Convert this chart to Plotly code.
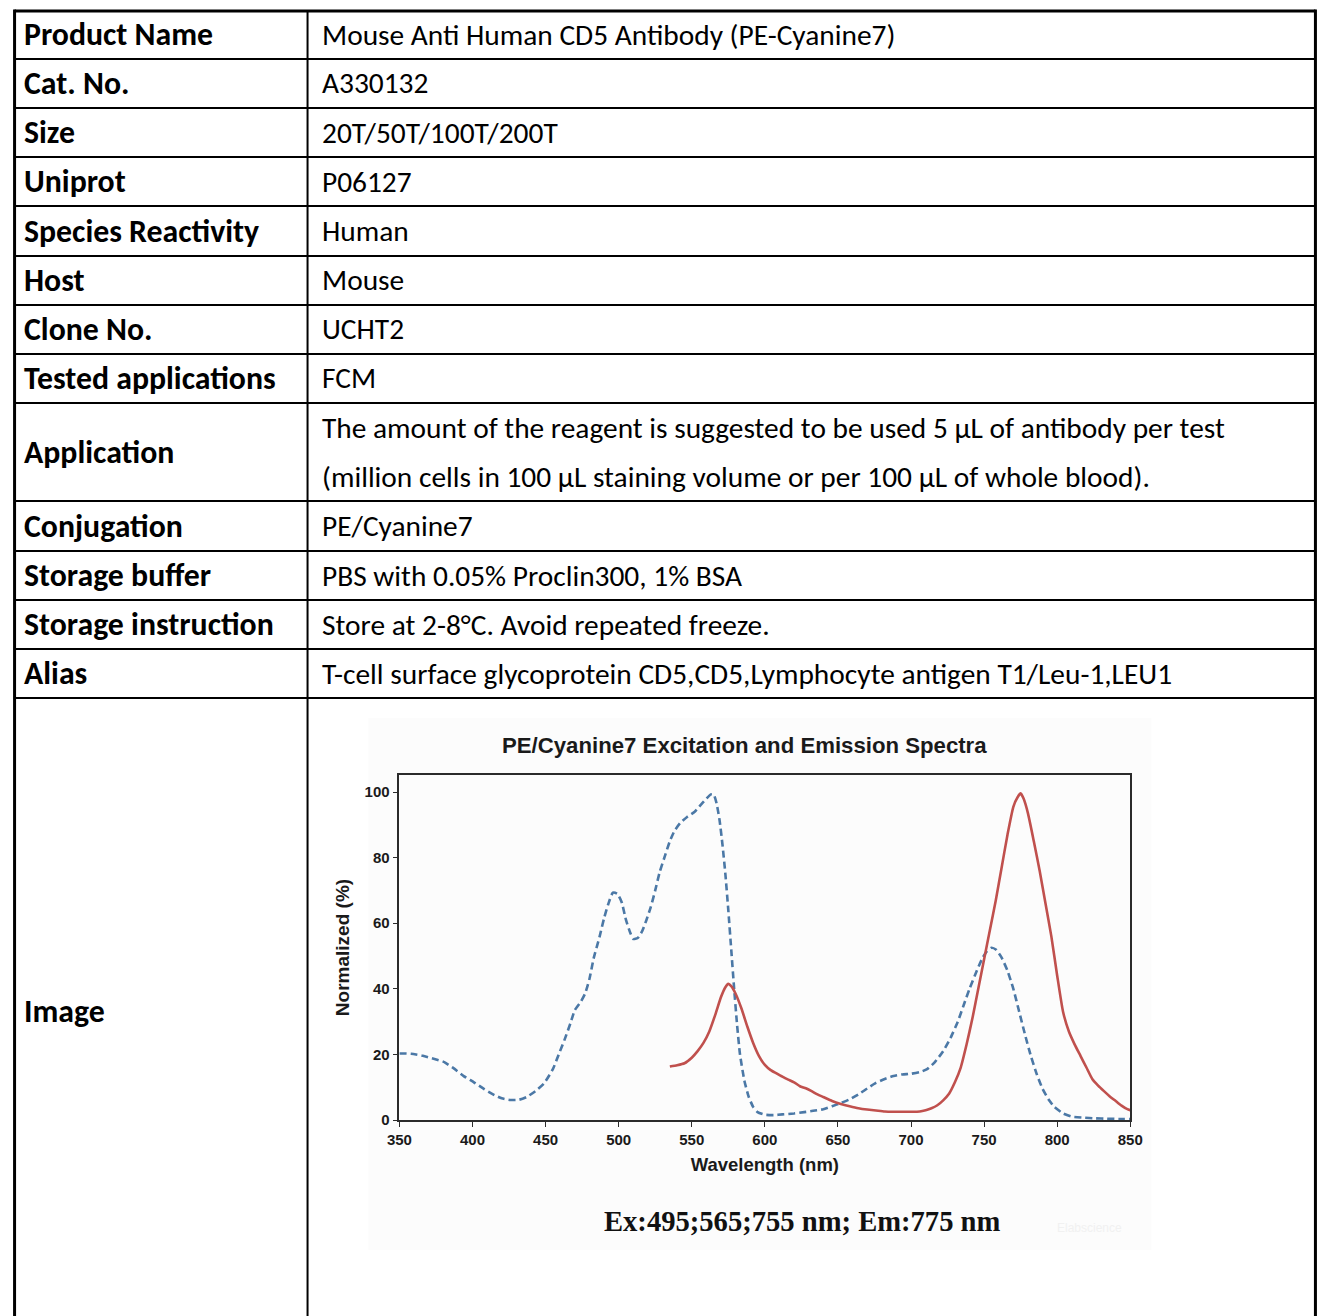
import plotly.graph_objects as go

# ---------------- data ----------------
row_labels = ["Product Name", "Cat. No.", "Size", "Uniprot", "Species Reactivity", "Host",
              "Clone No.", "Tested applications", "Application", "Conjugation",
              "Storage buffer", "Storage instruction", "Alias", "Image"]
row_values = [
    ["Mouse Anti Human CD5 Antibody (PE-Cyanine7)"],
    ["A330132"],
    ["20T/50T/100T/200T"],
    ["P06127"],
    ["Human"],
    ["Mouse"],
    ["UCHT2"],
    ["FCM"],
    ["The amount of the reagent is suggested to be used 5 µL of antibody per test",
     "(million cells in 100 µL staining volume or per 100 µL of whole blood)."],
    ["PE/Cyanine7"],
    ["PBS with 0.05% Proclin300, 1% BSA"],
    ["Store at 2-8°C. Avoid repeated freeze."],
    ["T-cell surface glycoprotein CD5,CD5,Lymphocyte antigen T1/Leu-1,LEU1"],
    [],
]

chart_title = "PE/Cyanine7 Excitation and Emission Spectra"
x_title = "Wavelength (nm)"
y_title = "Normalized (%)"
caption = "Ex:495;565;755 nm; Em:775 nm"
x_ticks = [350, 400, 450, 500, 550, 600, 650, 700, 750, 800, 850]
y_ticks = [0, 20, 40, 60, 80, 100]

ex_wl = [350, 358, 366, 374, 380, 387, 394, 401, 408, 415, 420, 426, 432, 437, 443, 449, 455,
         459, 463, 467, 470, 474, 477, 480, 483, 487, 490, 493, 496, 499, 502, 505, 508, 510,
         513, 516, 519, 522, 525, 528, 532, 535, 538, 542, 547, 552, 556, 560, 563, 565, 567,
         569, 571, 573, 575, 577, 579, 581, 583, 586, 589, 592, 595, 600, 606, 612, 620, 627,
         633, 640, 646, 652, 658, 664, 670, 676, 682, 688, 694, 700, 706, 711, 716, 722, 727,
         732, 736, 740, 745, 749, 752, 755, 758, 762, 766, 770, 774, 778, 782, 786, 790, 794,
         798, 804, 810, 818, 826, 834, 842, 850]
ex_val = [20.3, 20.2, 19.6, 18.6, 17.8, 15.8, 13.4, 11.5, 9.4, 7.6, 6.6, 6.1, 6.2, 7.0, 8.8, 11.2, 15.5,
          20.0, 24.5, 29.5, 33.5, 36.0, 38.5, 43.0, 49.5, 56.0, 61.5, 66.0, 69.3, 69.0, 66.5, 61.0, 57.0, 55.2,
          55.5, 57.5, 61.0, 65.0, 70.0, 75.5, 81.0, 85.0, 88.0, 90.5, 92.5, 94.0, 96.0, 98.0, 99.3, 99.3, 96.5,
          91.5, 84.0, 75.0, 64.0, 52.0, 40.0, 29.0, 20.0, 12.0, 7.0, 4.0, 2.4, 1.6, 1.5, 1.7, 2.0, 2.4,
          2.8, 3.3, 4.2, 5.2, 6.3, 7.8, 9.6, 11.3, 12.5, 13.4, 13.9, 14.1, 14.6, 15.5, 17.5, 21.0, 25.0,
          30.0, 35.0, 40.0, 45.5, 49.5, 51.5, 52.5, 52.0, 49.5, 45.5, 40.0, 33.0, 26.0, 19.5, 14.0, 9.5, 6.3,
          4.0, 2.0, 1.0, 0.7, 0.5, 0.4, 0.3, 0.3]

em_wl = [535, 540, 545, 550, 554, 558, 562, 566, 570, 573, 575, 577, 580, 584, 588, 592, 596,
         600, 604, 608, 612, 616, 620, 624, 628, 632, 636, 640, 646, 652, 658, 664, 670, 676,
         682, 688, 694, 700, 706, 710, 714, 718, 722, 726, 730, 734, 738, 742, 746, 750, 754,
         758, 762, 766, 770, 773, 775, 777, 780, 784, 788, 792, 796, 800, 804, 808, 812, 816,
         820, 824, 828, 832, 836, 840, 844, 848, 850]
em_val = [16.3, 16.7, 17.3, 19.0, 21.0, 23.5, 27.0, 32.0, 37.5, 40.5, 41.5, 40.8, 38.5, 34.0, 28.5, 23.5, 19.5,
          16.8, 15.2, 14.2, 13.2, 12.3, 11.5, 10.3, 9.7, 8.8, 7.8, 7.0, 5.8, 4.9, 4.2, 3.6, 3.2, 2.9,
          2.6, 2.5, 2.5, 2.5, 2.6, 3.0, 3.6, 4.5, 6.0, 8.0, 11.5, 16.0, 23.0, 31.0, 40.0, 49.0, 58.0,
          67.0, 77.0, 87.0, 95.5, 98.5, 99.6, 98.0, 93.5, 85.0, 76.0, 66.0, 56.0, 44.0, 33.0, 27.0, 23.0, 19.5,
          16.0, 12.5, 10.5, 8.8, 7.2, 5.8, 4.4, 3.3, 3.0]

# ---------------- layout helpers ----------------
W, H = 1330, 1316
# positions below are given in picture pixels; map them to paper fractions
def px(x):
    return min(max((x - 12.0) / 1306.0, 0.0012), 0.9988)
def py(y):
    return min(max(1 - y / 1308.0, 0.0), 0.9995)

TABLE_L, TABLE_R, TABLE_T = 8.5, 1325.5, 11
COL_X = 307
BOTTOM = -0.02  # let the vertical rules run off the bottom edge
row_lines = [59, 108, 157, 206, 256, 305, 354, 403, 501, 551, 600, 649, 698]
row_bounds = [TABLE_T] + row_lines + [1330]

table_font = "Carlito, Calibri, Lato, sans-serif"
chart_font = "Liberation Sans, Arial, sans-serif"

fig = go.Figure()

fig.add_trace(go.Scatter(
    x=ex_wl, y=ex_val, mode="lines", name="Excitation",
    line=dict(color="#4b78a6", width=2.6, dash="7px,4px", shape="spline", smoothing=0.5),
    hoverinfo="x+y", showlegend=False))
fig.add_trace(go.Scatter(
    x=em_wl, y=em_val, mode="lines", name="Emission",
    line=dict(color="#c0504d", width=2.6, shape="spline", smoothing=0.5),
    hoverinfo="x+y", showlegend=False))

shapes = []
shapes.append(dict(type="rect", xref="paper", yref="paper", x0=px(368), x1=px(1152), y0=py(1250), y1=py(718),
                   fillcolor="#fcfcfc", line=dict(width=0), layer="below"))
shapes.append(dict(type="line", xref="paper", yref="paper", x0=px(TABLE_L), x1=px(TABLE_R),
                   y0=py(TABLE_T), y1=py(TABLE_T), line=dict(color="black", width=3)))
shapes.append(dict(type="line", xref="paper", yref="paper", x0=px(TABLE_L), x1=px(TABLE_L),
                   y0=py(TABLE_T - 1.5), y1=BOTTOM, line=dict(color="black", width=3)))
shapes.append(dict(type="line", xref="paper", yref="paper", x0=px(TABLE_R), x1=px(TABLE_R),
                   y0=py(TABLE_T - 1.5), y1=BOTTOM, line=dict(color="black", width=3)))
shapes.append(dict(type="line", xref="paper", yref="paper", x0=px(COL_X), x1=px(COL_X),
                   y0=py(TABLE_T), y1=BOTTOM, line=dict(color="black", width=2)))
for yl in row_lines:
    shapes.append(dict(type="line", xref="paper", yref="paper", x0=px(TABLE_L), x1=px(TABLE_R),
                       y0=py(yl), y1=py(yl), line=dict(color="black", width=2)))

annotations = []
for i, lab in enumerate(row_labels):
    top, bot = row_bounds[i], row_bounds[i + 1]
    if lab == "Image":
        cy = 1012
    else:
        cy = (top + bot) / 2
    annotations.append(dict(text="<b>%s</b>" % lab, xref="paper", yref="paper", x=px(21), y=py(cy),
                            xanchor="left", yanchor="middle", showarrow=False,
                            font=dict(family=table_font, size=31.8, color="black")))
    vals = row_values[i]
    n = len(vals)
    for j, v in enumerate(vals):
        if n == 1:
            vy = cy
        else:
            span = (bot - top) / n
            vy = top + span * (j + 0.5)
        annotations.append(dict(text=v, xref="paper", yref="paper", x=px(319), y=py(vy),
                                xanchor="left", yanchor="middle", showarrow=False,
                                font=dict(family=table_font, size=29.4, color="black")))

annotations.append(dict(text="<b>%s</b>" % chart_title, xref="paper", yref="paper", x=px(745), y=py(745),
                        xanchor="center", yanchor="middle", showarrow=False,
                        font=dict(family=chart_font, size=22.2, color="#1a1a1a")))
annotations.append(dict(text="<b>%s</b>" % caption, xref="paper", yref="paper", x=px(803), y=py(1221),
                        xanchor="center", yanchor="middle", showarrow=False,
                        font=dict(family="Liberation Serif, Times New Roman, serif", size=28.6, color="#111111")))
annotations.append(dict(text="Elabscience", xref="paper", yref="paper", x=px(1090), y=py(1228),
                        xanchor="center", yanchor="middle", showarrow=False,
                        font=dict(family=chart_font, size=12, color="#f1f1f1")))

fig.update_layout(
    width=W, height=H,
    margin=dict(l=0, r=0, t=0, b=0),
    paper_bgcolor="white", plot_bgcolor="white",
    shapes=shapes, annotations=annotations,
    xaxis=dict(domain=[px(399), px(1131)], range=[350, 850], tickvals=x_ticks,
               showgrid=False, zeroline=False, showline=True, mirror=True, linecolor="#2b2b2b", linewidth=1.6,
               ticks="outside", ticklen=5, tickwidth=1.4, tickcolor="#2b2b2b",
               tickfont=dict(family=chart_font, size=15, color="#1a1a1a", weight="bold"),
               title=dict(text="<b>%s</b>" % x_title, font=dict(family=chart_font, size=18.5, color="#1a1a1a"),
                          standoff=11)),
    yaxis=dict(domain=[py(1120), py(775)], range=[0, 105.2], tickvals=y_ticks,
               showgrid=False, zeroline=False, showline=True, mirror=True, linecolor="#2b2b2b", linewidth=1.6,
               ticks="outside", ticklen=5, tickwidth=1.4, tickcolor="#2b2b2b",
               tickfont=dict(family=chart_font, size=15, color="#1a1a1a", weight="bold"),
               title=dict(text="<b>%s</b>" % y_title, font=dict(family=chart_font, size=19, color="#1a1a1a"),
                          standoff=10)),
)

fig.write_html(
    "out.html",
    config={"displayModeBar": False},
    post_script=("document.documentElement.style.margin='0';document.body.style.margin='0';"
                 "document.documentElement.style.overflow='hidden';document.body.style.overflow='hidden';"
                 "var gd=document.getElementsByClassName('plotly-graph-div')[0];"
                 "gd.style.position='fixed';gd.style.left='0px';gd.style.top='0px';"),
)
